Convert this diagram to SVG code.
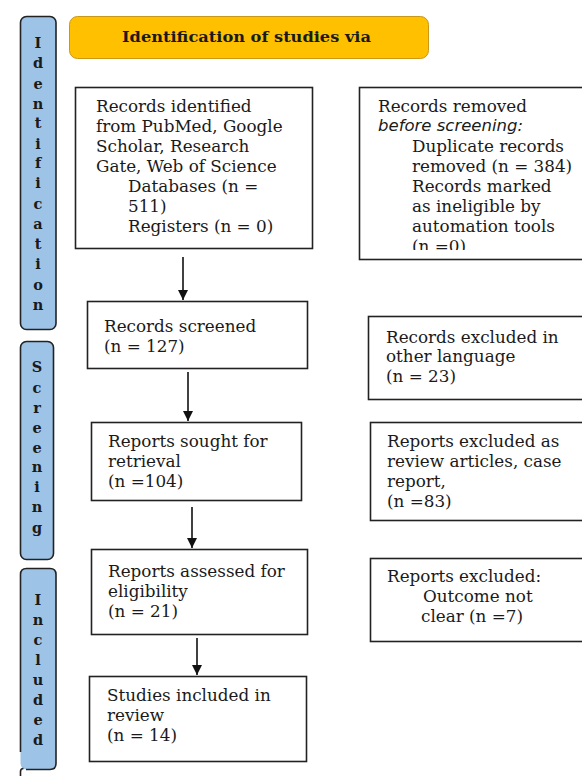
<svg xmlns="http://www.w3.org/2000/svg" width="582" height="776" viewBox="0 0 582 776">
<style>
.box{fill:#fff;stroke:#222;stroke-width:1.6}
.bar{fill:#9dc3e6;stroke:#222;stroke-width:1.6}
.t{font-family:"DejaVu Serif","Liberation Serif",serif;font-size:16.8px;fill:#1a1a1a}
.it{font-family:"DejaVu Sans","Liberation Sans",sans-serif;font-style:italic;font-size:16.5px;fill:#1a1a1a}
.v{font-family:"DejaVu Serif","Liberation Serif",serif;font-weight:bold;font-size:14.5px;fill:#1a1a1a;text-anchor:middle}
.h{font-family:"DejaVu Serif","Liberation Serif",serif;font-weight:bold;font-size:15px;fill:#1a1a1a}
.c{stroke:#111;stroke-width:1.6;fill:none;marker-end:url(#ah)}
</style>
<defs>
<marker id="ah" viewBox="0 0 10 10" refX="10" refY="5" markerWidth="10" markerHeight="10" markerUnits="userSpaceOnUse" orient="auto">
<path d="M0,0 L10,5 L0,10 Z" fill="#111"/>
</marker>
<clipPath id="clipRemoved"><rect x="359" y="87" width="230" height="163"/></clipPath>
</defs>
<rect width="582" height="776" fill="#fff"/>

<g id="bar-identification">
<rect class="bar" x="20.5" y="16.5" width="35.5" height="313" rx="6"/>
<text class="v"><tspan x="38" y="48">I</tspan><tspan x="38" y="68">d</tspan><tspan x="38" y="89">e</tspan><tspan x="38" y="109">n</tspan><tspan x="38" y="128">t</tspan><tspan x="38" y="149">i</tspan><tspan x="38" y="168">f</tspan><tspan x="38" y="188">i</tspan><tspan x="38" y="209">c</tspan><tspan x="38" y="229">a</tspan><tspan x="38" y="249">t</tspan><tspan x="38" y="269">i</tspan><tspan x="38" y="290">o</tspan><tspan x="38" y="310">n</tspan></text>
</g>

<g id="bar-screening">
<rect class="bar" x="20.5" y="341.5" width="33" height="218" rx="6"/>
<text class="v"><tspan x="37" y="372">S</tspan><tspan x="37" y="393">c</tspan><tspan x="37" y="413">r</tspan><tspan x="37" y="433">e</tspan><tspan x="37" y="453">e</tspan><tspan x="37" y="472">n</tspan><tspan x="37" y="492">i</tspan><tspan x="37" y="512">n</tspan><tspan x="37" y="533">g</tspan></text>
</g>

<g id="bar-included">
<rect x="20.5" y="568.5" width="35.5" height="201" rx="6" fill="#9dc3e6"/>
<path d="M20.5,752 V574.5 Q20.5,568.5 26.5,568.5 H50 Q56,568.5 56,574.5 V763.5 Q56,769.5 50,769.5 H26" fill="none" stroke="#222" stroke-width="1.6"/>
<path d="M20.5,776 V771.5 Q20.5,768.5 23.5,768.5" fill="none" stroke="#222" stroke-width="1.6"/>
<text class="v"><tspan x="38" y="605">I</tspan><tspan x="38" y="625">n</tspan><tspan x="38" y="645">c</tspan><tspan x="38" y="665">l</tspan><tspan x="38" y="685">u</tspan><tspan x="38" y="705">d</tspan><tspan x="38" y="725">e</tspan><tspan x="38" y="745">d</tspan></text>
</g>

<g id="header">
<rect x="69.5" y="16.5" width="359" height="42" rx="8" fill="#ffc000" stroke="#c9981a" stroke-width="1"/>
<text class="h" x="122" y="42" textLength="249" lengthAdjust="spacingAndGlyphs">Identification of studies via</text>
</g>

<g id="records-identified">
<rect class="box" x="75.5" y="87.5" width="237" height="161"/>
<text class="t"><tspan x="96" y="112">Records identified</tspan><tspan x="96" y="132">from PubMed, Google</tspan><tspan x="96" y="152">Scholar, Research</tspan><tspan x="96" y="172">Gate, Web of Science</tspan><tspan x="128" y="192">Databases (n =</tspan><tspan x="128" y="212">511)</tspan><tspan x="128" y="232">Registers (n = 0)</tspan></text>
</g>

<g id="records-removed">
<rect class="box" x="359.5" y="87.5" width="230" height="172"/>
<g clip-path="url(#clipRemoved)">
<text class="t"><tspan x="378" y="112">Records removed</tspan></text>
<text class="it" x="378" y="131">before screening:</text>
<text class="t"><tspan x="412" y="152">Duplicate records</tspan><tspan x="412" y="172">removed (n = 384)</tspan><tspan x="412" y="192">Records marked</tspan><tspan x="412" y="212">as ineligible by</tspan><tspan x="412" y="232">automation tools</tspan><tspan x="412" y="252">(n =0)</tspan></text>
</g>
</g>

<g id="records-screened">
<rect class="box" x="87.5" y="301.5" width="220" height="67"/>
<text class="t"><tspan x="104" y="332">Records screened</tspan><tspan x="104" y="352">(n = 127)</tspan></text>
</g>

<g id="records-excluded-language">
<rect class="box" x="368.5" y="316.5" width="221" height="83"/>
<text class="t"><tspan x="386" y="343">Records excluded in</tspan><tspan x="386" y="362">other language</tspan><tspan x="386" y="382">(n = 23)</tspan></text>
</g>

<g id="reports-sought">
<rect class="box" x="91.5" y="422.5" width="210" height="78"/>
<text class="t"><tspan x="108" y="447">Reports sought for</tspan><tspan x="108" y="467">retrieval</tspan><tspan x="108" y="487">(n =104)</tspan></text>
</g>

<g id="reports-excluded-review">
<rect class="box" x="370.5" y="422.5" width="219" height="98"/>
<text class="t"><tspan x="387" y="447">Reports excluded as</tspan><tspan x="387" y="467">review articles, case</tspan><tspan x="387" y="487">report,</tspan><tspan x="387" y="507">(n =83)</tspan></text>
</g>

<g id="reports-assessed">
<rect class="box" x="91.5" y="549.5" width="216" height="85"/>
<text class="t"><tspan x="108" y="577">Reports assessed for</tspan><tspan x="108" y="597">eligibility</tspan><tspan x="108" y="617">(n = 21)</tspan></text>
</g>

<g id="reports-excluded-outcome">
<rect class="box" x="370.5" y="558.5" width="219" height="83"/>
<text class="t"><tspan x="387" y="582">Reports excluded:</tspan><tspan x="423" y="602">Outcome not</tspan><tspan x="421" y="622">clear (n =7)</tspan></text>
</g>

<g id="studies-included">
<rect class="box" x="89.5" y="676.5" width="217" height="85"/>
<text class="t"><tspan x="107" y="701">Studies included in</tspan><tspan x="107" y="721">review</tspan><tspan x="107" y="741">(n = 14)</tspan></text>
</g>

<g id="connectors">
<path class="c" d="M183,257 V300"/>
<path class="c" d="M188,372 V421"/>
<path class="c" d="M192,507 V548"/>
<path class="c" d="M197,638 V675"/>
</g>
</svg>
